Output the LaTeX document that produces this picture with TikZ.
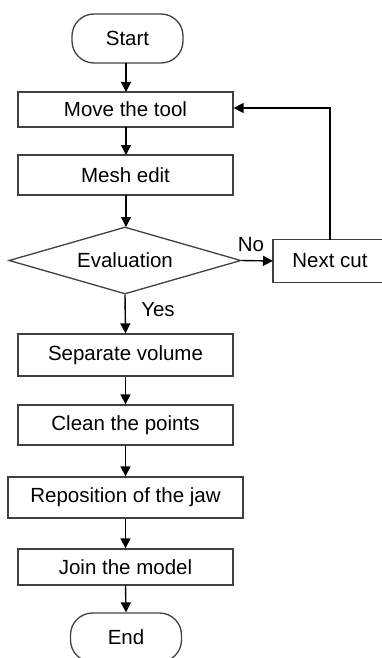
\documentclass[tikz,border=0pt]{standalone}
\usepackage{fontspec}
\setmainfont{Liberation Sans}
\usetikzlibrary{shapes.geometric,arrows.meta}
\begin{document}
\begin{tikzpicture}[x=1pt,y=-1pt,
  every node/.style={font=\fontsize{20.5}{24}\selectfont, text=black},
  boxnode/.style={draw=black!75, line width=1.3pt, rectangle, inner sep=0pt, minimum width=215pt},
  termnode/.style={draw=black!75, line width=1.3pt, rectangle, rounded corners=22pt, inner sep=0pt, minimum width=111pt, minimum height=49pt},
  decnode/.style={draw=black!75, line width=1.3pt, diamond, aspect=3.46, inner sep=0pt, minimum width=232pt, minimum height=67pt},
  conn/.style={draw=black, line width=1.4pt, -{Triangle[length=10pt,width=10pt]}},
  lbl/.style={inner sep=0pt}]
\useasboundingbox (0,0) rectangle (382,658);
\begin{scope}
\clip (0,0) rectangle (382,658);
\node[rectangle, inner sep=0pt, minimum width=160pt, minimum height=42pt, anchor=west] (next) at (273,261) {};
\draw[draw=black!75, line width=1.3pt] (next.north east) -- (next.north west) -- (next.south west) -- (next.south east);
\node (nexttext) at (330,261) {Next cut};
\node[termnode] (start) at (127.5,38.5) {Start};
\node[boxnode, minimum height=35pt] (move) at (125.5,109.5) {Move the tool};
\node[boxnode, minimum height=40pt] (mesh) at (125.5,175) {Mesh edit};
\node[decnode] (eval) at (125,260.5) {Evaluation};
\node[boxnode, minimum height=42pt] (sep) at (125.5,355) {Separate volume};
\node[boxnode, minimum height=40pt] (clean) at (125.5,425) {Clean the points};
\node[boxnode, minimum width=235pt, minimum height=41pt] (repo) at (125.5,497.5) {Reposition of the jaw};
\node[boxnode, minimum height=36pt] (join) at (125.5,567) {Join the model};
\node[termnode, minimum height=49pt] (end) at (126,637.5) {End};
\coordinate (loopb) at (330,240);
\coordinate (loopt) at (330,108);
\end{scope}
\draw[conn] (126,63) -- (126,92);
\draw[conn] (126,127) -- (126,155);
\draw[conn] (126,195) -- (126,227);
\draw[conn] (eval.east) -- (next.west);
\draw[conn] (eval.south) -- (sep.north);
\draw[conn] (sep.south) -- (clean.north);
\draw[conn] (clean.south) -- (repo.north);
\draw[conn] (repo.south) -- (join.north);
\draw[conn] (join.south) -- (end.north);
\draw[conn] (loopb) -- (loopt) -- (move.east |- loopt);
\node[lbl] (no) at (251,245) {No};
\node[lbl] (yes) at (158,310) {Yes};
\end{tikzpicture}
\end{document}
